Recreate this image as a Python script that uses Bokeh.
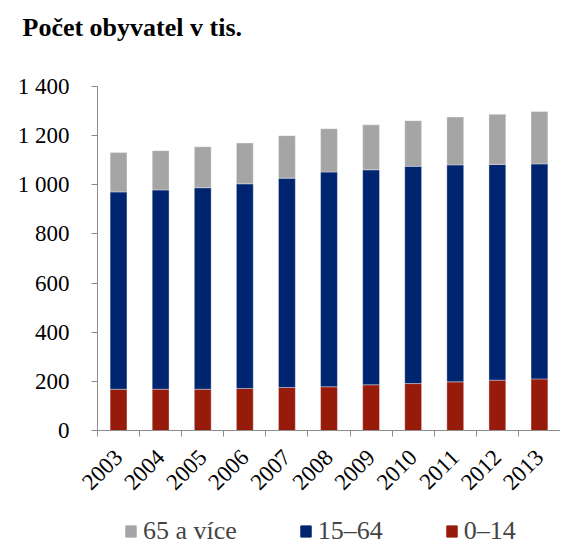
import math
from bokeh.plotting import figure
from bokeh.layouts import column
from bokeh.models import FixedTicker, Legend, LegendItem, Range1d, ColumnDataSource
from bokeh.embed import file_html
from bokeh.resources import INLINE

years = ["2003", "2004", "2005", "2006", "2007", "2008", "2009", "2010", "2011", "2012", "2013"]
age_0_14 = [168, 168, 168, 171, 175, 178, 186, 191, 198, 205, 210]
age_15_64 = [803, 811, 820, 833, 852, 874, 875, 884, 883, 878, 875]
age_65_plus = [160, 160, 167, 166, 173, 176, 183, 186, 195, 204, 213]
y_ticks = [0, 200, 400, 600, 800, 1000, 1200, 1400]
series_names = ["0–14", "15–64", "65 a více"]
colors = ["#971B0B", "#002570", "#A5A5A5"]

idx = list(range(len(years)))
src = ColumnDataSource(dict(x=idx, a=age_0_14, b=age_15_64, c=age_65_plus))

FONT = "Liberation Serif"
AXIS_COLOR = "#8c8c8c"

p = figure(width=560, height=510, output_backend="svg", toolbar_location=None,
           x_range=Range1d(-0.5, len(years) - 0.5), y_range=Range1d(0, 1400),
           min_border_left=97, min_border_right=0, min_border_top=86, min_border_bottom=80)

rs = p.vbar_stack(["a", "b", "c"], x="x", width=0.4, color=colors, source=src,
                  line_color="#ffffff", line_alpha=0.35, line_width=1)

p.title.text = "Počet obyvatel v tis."
p.title.text_font = FONT
p.title.text_font_style = "bold"
p.title.text_font_size = "26px"
p.title.text_color = "#000000"
p.title.align = "left"
p.title.offset = -75
p.title.padding = (0, 0, 0, 40)

p.xgrid.visible = False
p.ygrid.visible = False
p.outline_line_color = None

# y axis
p.yaxis.ticker = FixedTicker(ticks=y_ticks)
p.yaxis.major_label_overrides = {t: format(t, ",").replace(",", " ") for t in y_ticks}
p.yaxis.axis_line_color = AXIS_COLOR
p.yaxis.major_tick_line_color = AXIS_COLOR
p.yaxis.major_tick_in = 0
p.yaxis.major_tick_out = 6
p.yaxis.minor_tick_line_color = None
p.yaxis.major_label_text_font = FONT
p.yaxis.major_label_text_font_size = "23px"
p.yaxis.major_label_text_color = "#000000"
p.yaxis.major_label_standoff = 22

# x axis
p.xaxis.ticker = FixedTicker(ticks=idx, minor_ticks=[i - 0.5 for i in range(len(years) + 1)])
p.xaxis.major_label_overrides = {i: y for i, y in zip(idx, years)}
p.xaxis.axis_line_color = AXIS_COLOR
p.xaxis.major_tick_line_color = None
p.xaxis.major_tick_in = 0
p.xaxis.major_tick_out = 0
p.xaxis.minor_tick_line_color = AXIS_COLOR
p.xaxis.minor_tick_in = 0
p.xaxis.minor_tick_out = 6
p.xaxis.major_label_orientation = math.pi / 4
p.xaxis.major_label_text_font = FONT
p.xaxis.major_label_text_font_size = "23px"
p.xaxis.major_label_text_color = "#000000"
p.xaxis.major_label_standoff = 17

# legend strip (frames are aligned with the chart above)
lg = figure(width=560, height=36, output_backend="svg", toolbar_location=None,
            x_range=Range1d(0, 1), y_range=Range1d(0, 1),
            x_axis_location=None, y_axis_location=None, min_border=0)
lg.xgrid.visible = False
lg.ygrid.visible = False
lg.outline_line_color = None
swatches = [lg.vbar(x=[0.5], top=[0], bottom=[0], width=0.01, color=c) for c in colors]
items = [LegendItem(label=series_names[i], renderers=[swatches[i]]) for i in (2, 1, 0)]
legend = Legend(items=items, orientation="horizontal", location=(27, 0),
                label_text_font=FONT, label_text_font_size="26px",
                glyph_width=13, glyph_height=14, label_standoff=6, spacing=62,
                padding=0, margin=0, border_line_color=None, background_fill_alpha=0)
lg.add_layout(legend, "center")

open("out.html", "w").write(file_html(column(p, lg), INLINE))
